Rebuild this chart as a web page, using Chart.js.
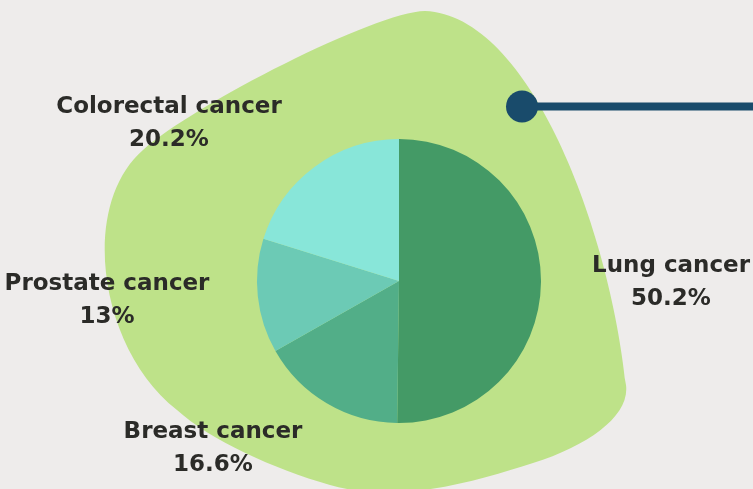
<!DOCTYPE html>
<html>
<head>
<meta charset="utf-8">
<script src="https://cdn.jsdelivr.net/npm/chart.js@4/dist/chart.umd.min.js"></script>
<style>
  html, body { margin: 0; padding: 0; background: #eeeceb; }
  #wrap { width: 753px; height: 489px; position: relative; }
</style>
</head>
<body>
<div id="wrap"><canvas id="graficoCancer" width="753" height="489"></canvas></div>
<script>
var categorias = ['Lung cancer', 'Breast cancer', 'Prostate cancer', 'Colorectal cancer'];
var percentuais = [50.2, 16.6, 13, 20.2];
var rotulos = ['50.2%', '16.6%', '13%', '20.2%'];
var cores = ['#449a66', '#52ae88', '#6ccab5', '#88e6d9'];

// posicoes dos rotulos (centro do texto)
var posRotulos = [[671, 266], [213, 432], [107, 284], [169, 107]];

// contorno da mancha verde: ponto inicial + curvas [c1x,c1y,c2x,c2y,x,y]
var manchaInicio = [425, 11];
var manchaCurvas = [
    [530, 15, 610, 230, 626, 385],
    [630, 415, 590, 445, 533, 463],
    [480, 480, 400, 505, 330, 485],
    [274, 469, 210, 440, 177, 410],
    [100, 350, 78, 207, 143, 150],
    [195, 104, 375, 12, 425, 11]
];

var fundoPlugin = {
    id: 'fundo',
    beforeDraw: function(chart) {
        var ctx = chart.ctx;
        ctx.save();
        ctx.fillStyle = '#eeeceb';
        ctx.fillRect(0, 0, chart.width, chart.height);
        ctx.beginPath();
        ctx.moveTo(manchaInicio[0], manchaInicio[1]);
        manchaCurvas.forEach(function(c) {
            ctx.bezierCurveTo(c[0], c[1], c[2], c[3], c[4], c[5]);
        });
        ctx.closePath();
        ctx.fillStyle = '#bee289';
        ctx.fill();
        // ponto e linha azul
        ctx.fillStyle = '#194b6b';
        ctx.fillRect(522, 102.5, 240, 8);
        ctx.beginPath();
        ctx.arc(522, 106.5, 16, 0, Math.PI * 2);
        ctx.fill();
        ctx.restore();
    },
    afterDraw: function(chart) {
        var ctx = chart.ctx;
        ctx.save();
        ctx.fillStyle = '#2b2b28';
        ctx.textAlign = 'center';
        ctx.textBaseline = 'middle';
        ctx.font = 'bold 23px "DejaVu Sans"';
        for (var i = 0; i < categorias.length; i++) {
            ctx.fillText(categorias[i], posRotulos[i][0], posRotulos[i][1]);
            ctx.fillText(rotulos[i], posRotulos[i][0], posRotulos[i][1] + 33);
        }
        ctx.restore();
    }
};

var ctx = document.getElementById('graficoCancer');
var grafico = new Chart(ctx, {
    type: 'pie',
    data: {
        labels: categorias,
        datasets: [{
            data: percentuais,
            backgroundColor: cores,
            hoverBackgroundColor: cores,
            borderWidth: 0
        }]
    },
    options: {
        responsive: false,
        animation: false,
        layout: { padding: { left: 257, right: 212, top: 139, bottom: 66 } },
        plugins: {
            legend: { display: false },
            tooltip: { enabled: false }
        }
    },
    plugins: [fundoPlugin]
});
</script>
</body>
</html>
